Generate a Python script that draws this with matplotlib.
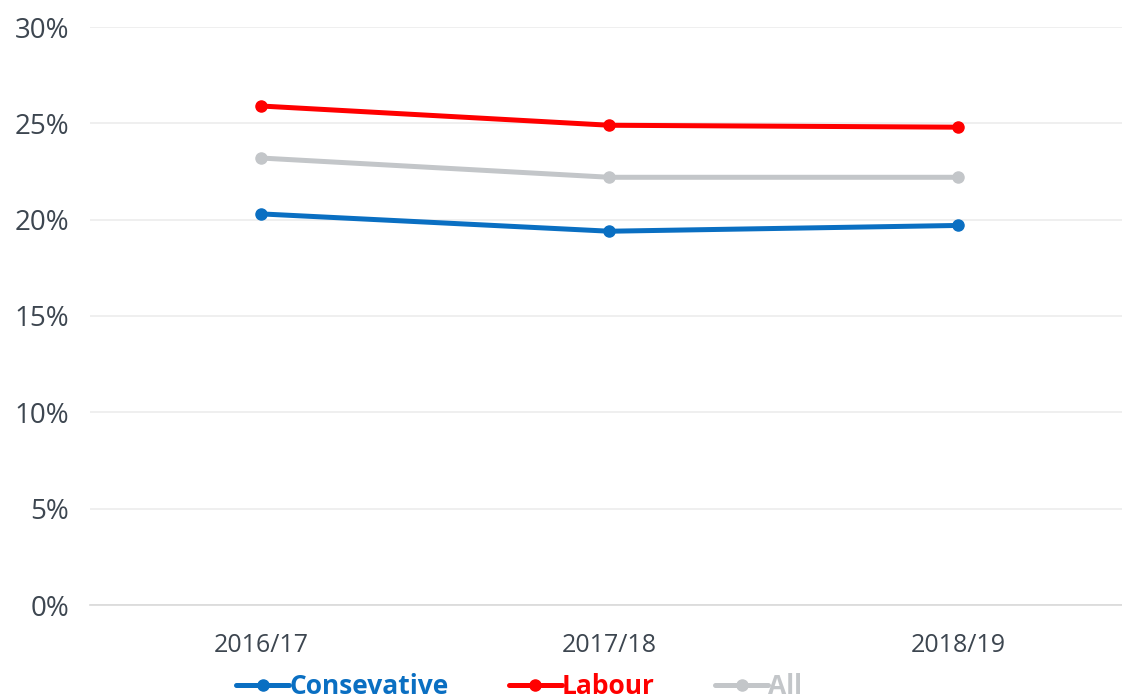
import matplotlib.pyplot as plt
from matplotlib.ticker import FuncFormatter

years = ["2016/17", "2017/18", "2018/19"]
conservative = [20.3, 19.4, 19.7]
labour = [25.9, 24.9, 24.8]
all_mps = [23.2, 22.2, 22.2]

series = [
    ("Consevative", conservative, "#0a6fc2"),
    ("Labour", labour, "#ff0000"),
    ("All", all_mps, "#c3c6c9"),
]

fig = plt.figure(figsize=(11.22, 6.98), dpi=100)
ax = fig.add_axes([90 / 1122, 1 - 605 / 698, 1 - 90 / 1122, (605 - 27) / 698])

x = range(len(years))
for name, vals, col in series:
    ax.plot(x, vals, color=col, lw=3.6, marker="o", ms=8, label=name,
            solid_capstyle="round")

ax.set_xlim(-0.49, 2.47)
ax.set_ylim(0, 30)
ax.set_yticks(range(0, 31, 5))
ax.yaxis.set_major_formatter(FuncFormatter(lambda v, p: f"{v:.0f}%"))
ax.set_xticks(list(x))
ax.set_xticklabels(years)
ax.grid(axis="y", color="#ececec", lw=1.2)
ax.set_axisbelow(True)
for s in ["top", "right", "left"]:
    ax.spines[s].set_visible(False)
ax.spines["bottom"].set_color("#d9d9d9")
ax.spines["bottom"].set_linewidth(1.2)
ax.tick_params(axis="both", length=0, labelcolor="#3d4650",
               labelfontfamily="Open Sans")
ax.tick_params(axis="y", pad=15, labelsize=20)
ax.tick_params(axis="x", pad=20, labelsize=18)

leg = ax.legend(loc="lower center", bbox_to_anchor=(0.416, -0.205),
                ncol=3, frameon=False, handlelength=2.0, handletextpad=0.0,
                columnspacing=2.3, prop={"family": ["Liberation Sans Narrow", "Open Sans"],
                                         "weight": "bold", "size": 19})
for txt, (_, _, col) in zip(leg.get_texts(), series):
    txt.set_color(col)

fig.savefig("out.png", dpi=100)
